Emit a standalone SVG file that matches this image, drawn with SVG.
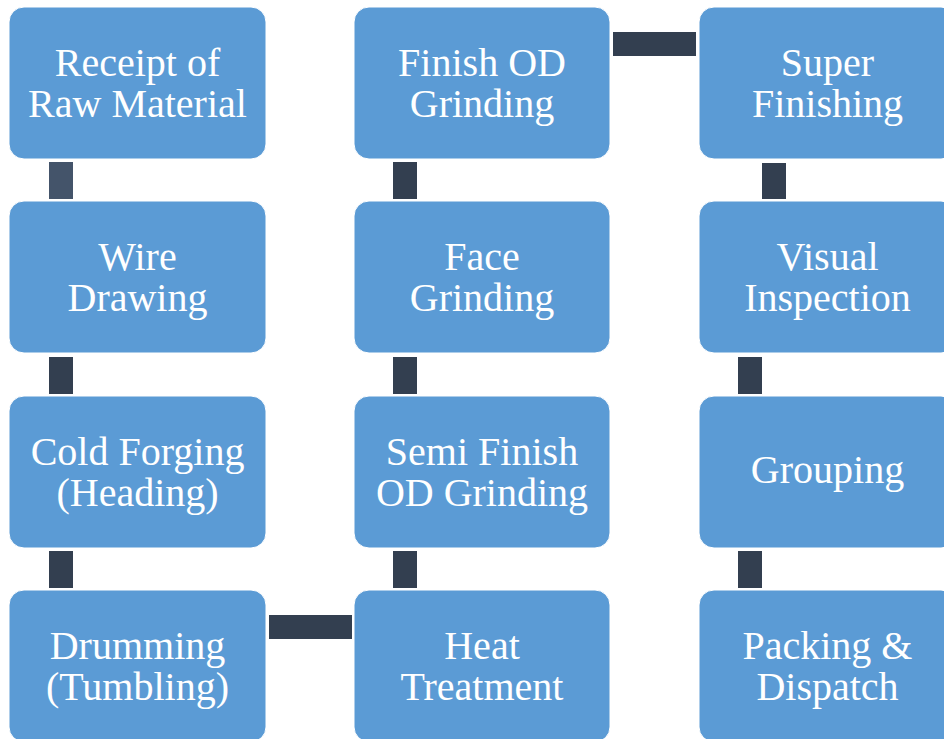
<svg xmlns="http://www.w3.org/2000/svg" width="944" height="739" viewBox="0 0 944 739">
<style>
.box{fill:#5B9BD5;stroke:#FFFFFF;stroke-width:1}
.lbl{font-family:"Liberation Serif","Times New Roman",serif;font-size:40px;fill:#FFFFFF;text-anchor:middle}
.con{fill:#333F50}
</style>
<rect x="0" y="0" width="944" height="739" fill="#FFFFFF"/>
<g id="connectors">
<rect x="49" y="162" width="24" height="37" fill="#44546A"/>
<rect class="con" x="49" y="357" width="24" height="37"/>
<rect class="con" x="49" y="551" width="24" height="37"/>
<rect class="con" x="269" y="615" width="83" height="24"/>
<rect class="con" x="393" y="551" width="24" height="37"/>
<rect class="con" x="393" y="357" width="24" height="37"/>
<rect class="con" x="393" y="162" width="24" height="37"/>
<rect class="con" x="613" y="32" width="83" height="24"/>
<rect class="con" x="762" y="163" width="24" height="36"/>
<rect class="con" x="738" y="357" width="24" height="37"/>
<rect class="con" x="738" y="551" width="24" height="37"/>
</g>
<g id="n1"><rect class="box" x="9" y="7" width="257" height="152" rx="15"/><text class="lbl" x="137.5" y="76">Receipt of</text><text class="lbl" x="137.5" y="117">Raw Material</text></g>
<g id="n2"><rect class="box" x="9" y="201" width="257" height="152" rx="15"/><text class="lbl" x="137.5" y="270">Wire</text><text class="lbl" x="137.5" y="311">Drawing</text></g>
<g id="n3"><rect class="box" x="9" y="396" width="257" height="152" rx="15"/><text class="lbl" x="137.5" y="465">Cold Forging</text><text class="lbl" x="137.5" y="506">(Heading)</text></g>
<g id="n4"><rect class="box" x="9" y="590" width="257" height="152" rx="15"/><text class="lbl" x="137.5" y="659">Drumming</text><text class="lbl" x="137.5" y="700">(Tumbling)</text></g>
<g id="n5"><rect class="box" x="354" y="590" width="256" height="152" rx="15"/><text class="lbl" x="482" y="659">Heat</text><text class="lbl" x="482" y="700">Treatment</text></g>
<g id="n6"><rect class="box" x="354" y="396" width="256" height="152" rx="15"/><text class="lbl" x="482" y="465">Semi Finish</text><text class="lbl" x="482" y="506">OD Grinding</text></g>
<g id="n7"><rect class="box" x="354" y="201" width="256" height="152" rx="15"/><text class="lbl" x="482" y="270">Face</text><text class="lbl" x="482" y="311">Grinding</text></g>
<g id="n8"><rect class="box" x="354" y="7" width="256" height="152" rx="15"/><text class="lbl" x="482" y="76">Finish OD</text><text class="lbl" x="482" y="117">Grinding</text></g>
<g id="n9"><rect class="box" x="699" y="7" width="257" height="152" rx="15"/><text class="lbl" x="827.5" y="76">Super</text><text class="lbl" x="827.5" y="117">Finishing</text></g>
<g id="n10"><rect class="box" x="699" y="201" width="257" height="152" rx="15"/><text class="lbl" x="827.5" y="270">Visual</text><text class="lbl" x="827.5" y="311">Inspection</text></g>
<g id="n11"><rect class="box" x="699" y="396" width="257" height="152" rx="15"/><text class="lbl" x="827.5" y="483">Grouping</text></g>
<g id="n12"><rect class="box" x="699" y="590" width="257" height="152" rx="15"/><text class="lbl" x="827.5" y="659">Packing &amp;</text><text class="lbl" x="827.5" y="700">Dispatch</text></g>
</svg>
